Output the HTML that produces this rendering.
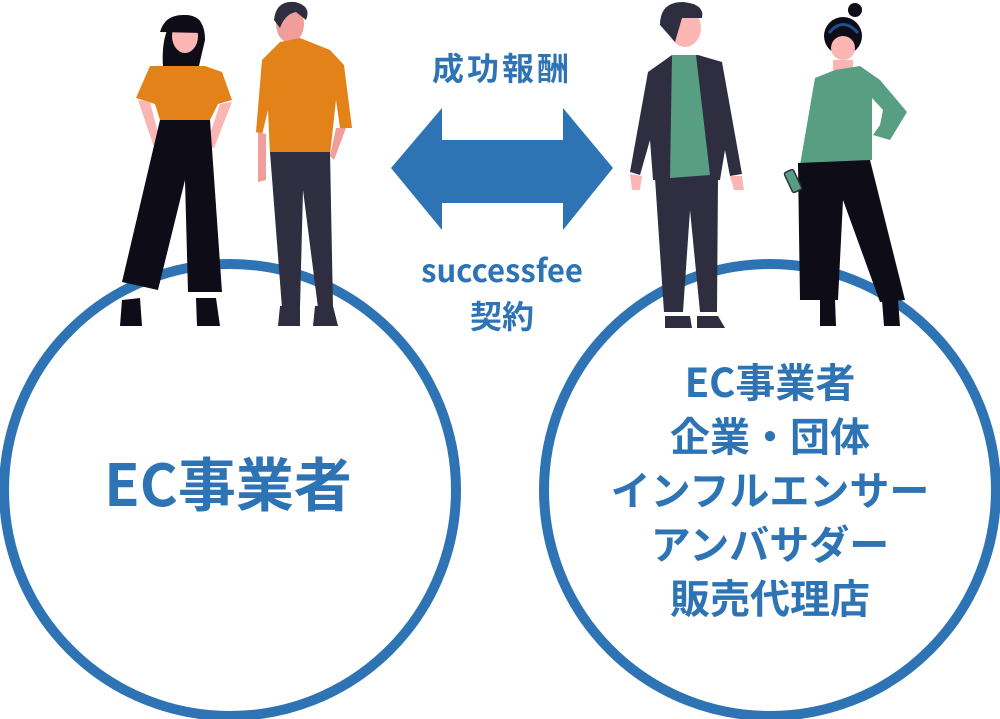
<!DOCTYPE html>
<html><head><meta charset="utf-8"><style>
body{margin:0;width:1000px;height:719px;overflow:hidden;background:#fff}
svg{display:block}
text{font-family:"Noto Sans CJK JP","Liberation Sans",sans-serif;fill:#2e74b5;font-weight:bold;text-anchor:middle}
</style></head><body>
<svg width="1000" height="719" viewBox="0 0 1000 719">
<circle cx="230" cy="490" r="226" fill="none" stroke="#2e74b5" stroke-width="10"/>
<circle cx="770" cy="490" r="226" fill="none" stroke="#2e74b5" stroke-width="10"/>
<polygon points="391,168 442,108 442,140 563,140 563,108 613,168 563,230 563,203 442,203 442,230" fill="#2e74b5"/>
<text x="502" y="80" font-size="32" letter-spacing="3">成功報酬</text>
<text x="502" y="282" font-size="31">successfee</text>
<text x="502" y="328" font-size="32">契約</text>
<text x="228" y="506" font-size="58">EC事業者</text>
<g font-size="40">
<text x="770" y="397">EC事業者</text>
<text x="770" y="451">企業・団体</text>
<text x="770" y="505">インフルエンサー</text>
<text x="770" y="559">アンバサダー</text>
<text x="770" y="613">販売代理店</text>
</g>
<!-- woman 1 -->
<path d="M163,68 Q160,20 185,15 Q205,15 205,40 L198,70 Z" fill="#0d0c17"/>
<ellipse cx="185" cy="36" rx="13" ry="17" fill="#fbb6b3"/>
<path d="M160,32 Q165,14 185,15 Q205,16 202,33 Z" fill="#0d0c17"/>
<path d="M136,98 L150,66 L205,66 L222,72 L232,100 L218,104 L210,120 L160,120 L155,104 Z" fill="#e4821a"/>
<path d="M138,100 L150,102 L162,148 L155,150 Z M220,104 L232,102 L214,148 L206,146 Z" fill="#fbb6b3"/>
<path d="M160,120 L210,120 L222,292 L188,292 L185,180 L158,290 L122,282 Z" fill="#0d0c17"/>
<path d="M122,300 L140,298 L142,326 L120,326 Z M196,298 L216,298 L220,326 L197,326 Z" fill="#0d0c17"/>
<!-- man 1 -->
<ellipse cx="290" cy="24" rx="14" ry="19" fill="#f09e9c"/>
<path d="M274,20 Q276,0 295,2 Q312,6 306,20 L296,12 Q285,14 280,28 Z" fill="#2f2e41"/>
<path d="M280,42 L300,38 L330,50 L344,65 L352,128 L340,128 L336,100 L330,155 L270,155 L268,110 L262,135 L256,132 L262,60 Z" fill="#e4821a"/>
<path d="M258,132 L266,134 L266,180 L258,182 Z M336,128 L346,128 L334,160 L330,156 Z" fill="#f09e9c"/>
<path d="M270,152 L330,152 L333,308 L318,308 L303,190 L300,308 L282,308 Z" fill="#2f2e41"/>
<path d="M280,306 L300,306 L300,326 L278,326 Z M315,306 L333,306 L338,326 L313,326 Z" fill="#2f2e41"/>
<!-- man 2 -->
<ellipse cx="685" cy="28" rx="16" ry="19" fill="#fbb6b3"/>
<path d="M660,25 Q660,2 683,2 Q705,4 702,18 L682,18 L675,42 Z" fill="#2f2e41"/>
<path d="M648,72 L672,55 L698,55 L722,62 L742,174 L730,176 L725,150 L720,180 L653,180 L650,140 L640,175 L630,172 Z" fill="#2f2e41"/>
<path d="M672,55 L696,55 L710,175 L670,178 Z" fill="#579e83"/>
<path d="M630,174 L642,176 L640,190 L632,190 Z M730,176 L742,176 L744,190 L734,190 Z" fill="#fbb6b3"/>
<path d="M655,178 L718,178 L717,312 L700,312 L690,210 L683,312 L664,312 Z" fill="#2f2e41"/>
<path d="M665,316 L690,316 L692,328 L665,328 Z M697,316 L718,316 L725,328 L697,328 Z" fill="#2f2e41"/>
<!-- woman 2 -->
<circle cx="855" cy="10" r="7" fill="#0d0c17"/>
<circle cx="843" cy="36" r="19" fill="#0d0c17"/>
<path d="M829,33 Q843,16 858,33" fill="none" stroke="#1f4f8f" stroke-width="3"/>
<ellipse cx="843" cy="48" rx="12" ry="12" fill="#fbb6b3"/>
<path d="M833,60 L853,60 L853,70 L833,70 Z" fill="#fbb6b3"/>
<path d="M815,78 L835,70 L860,66 L880,80 L907,112 L890,140 L873,135 L880,125 L883,110 L872,98 L872,160 L800,165 Z" fill="#579e83"/>
<path d="M798,163 L870,160 L905,300 L880,302 L843,200 L838,300 L800,300 Z" fill="#0d0c17"/>
<path d="M820,300 L835,300 L836,326 L820,326 Z M882,300 L898,300 L900,326 L884,326 Z" fill="#0d0c17"/>
<rect x="788" y="170" width="10" height="22" rx="2" fill="#579e83" stroke="#2f2e41" stroke-width="1.5" transform="rotate(-25 793 181)"/>
</svg>
</body></html>
